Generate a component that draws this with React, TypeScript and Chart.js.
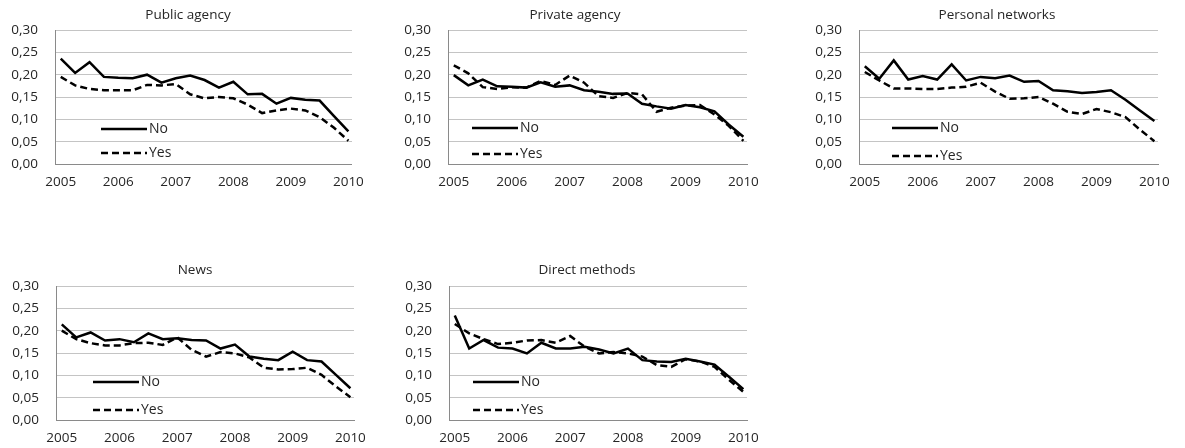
import React, { useEffect, useRef } from 'react';
import { Chart, registerables } from 'chart.js';

Chart.register(...registerables);

// Quarterly observations, 2005Q1 .. 2010Q1
const quarters = [
  '2005Q1', '2005Q2', '2005Q3', '2005Q4',
  '2006Q1', '2006Q2', '2006Q3', '2006Q4',
  '2007Q1', '2007Q2', '2007Q3', '2007Q4',
  '2008Q1', '2008Q2', '2008Q3', '2008Q4',
  '2009Q1', '2009Q2', '2009Q3', '2009Q4',
  '2010Q1',
];
const yearLabels = ['2005', '2006', '2007', '2008', '2009', '2010'];
const yearTickIndex = [0, 4, 8, 12, 16, 20];
const seriesNames = ['No', 'Yes'];
const panelTitles = ['Public agency', 'Private agency', 'Personal networks', 'News', 'Direct methods'];

const publicNo = [0.236, 0.204, 0.228, 0.195, 0.193, 0.192, 0.200, 0.182, 0.192, 0.198, 0.188, 0.171, 0.184, 0.156, 0.157, 0.135, 0.148, 0.144, 0.142, 0.107, 0.073];
const publicYes = [0.195, 0.176, 0.168, 0.165, 0.165, 0.165, 0.177, 0.176, 0.179, 0.156, 0.147, 0.150, 0.147, 0.133, 0.114, 0.120, 0.124, 0.120, 0.105, 0.081, 0.052];
const privateNo = [0.199, 0.176, 0.189, 0.174, 0.173, 0.171, 0.183, 0.173, 0.176, 0.165, 0.162, 0.157, 0.158, 0.135, 0.129, 0.124, 0.132, 0.127, 0.118, 0.088, 0.061];
const privateYes = [0.221, 0.203, 0.172, 0.168, 0.172, 0.171, 0.186, 0.177, 0.198, 0.182, 0.152, 0.148, 0.159, 0.156, 0.117, 0.126, 0.131, 0.132, 0.111, 0.085, 0.052];
const personalNo = [0.219, 0.191, 0.232, 0.189, 0.197, 0.189, 0.223, 0.187, 0.195, 0.192, 0.198, 0.184, 0.186, 0.165, 0.163, 0.159, 0.161, 0.165, 0.144, 0.120, 0.096];
const personalYes = [0.206, 0.187, 0.169, 0.169, 0.168, 0.168, 0.171, 0.173, 0.182, 0.162, 0.146, 0.147, 0.150, 0.135, 0.117, 0.112, 0.123, 0.116, 0.105, 0.077, 0.051];
const newsNo = [0.214, 0.185, 0.196, 0.178, 0.181, 0.174, 0.194, 0.181, 0.183, 0.179, 0.178, 0.160, 0.169, 0.142, 0.137, 0.134, 0.153, 0.134, 0.131, 0.101, 0.071];
const newsYes = [0.200, 0.181, 0.172, 0.167, 0.167, 0.172, 0.173, 0.168, 0.185, 0.157, 0.142, 0.152, 0.149, 0.140, 0.117, 0.113, 0.114, 0.117, 0.101, 0.075, 0.051];
const directNo = [0.234, 0.160, 0.179, 0.162, 0.160, 0.149, 0.173, 0.160, 0.160, 0.164, 0.158, 0.149, 0.160, 0.134, 0.131, 0.130, 0.137, 0.131, 0.124, 0.097, 0.069];
const directYes = [0.215, 0.194, 0.181, 0.170, 0.173, 0.178, 0.179, 0.173, 0.188, 0.164, 0.149, 0.152, 0.149, 0.142, 0.123, 0.119, 0.136, 0.131, 0.119, 0.090, 0.063];

const FONT = '"Open Sans", "DejaVu Sans", sans-serif';
const TEXT = '#262626';
const AXIS = '#8a8a8a';
const GRID = '#c4c4c4';

type Layout = {
  plotLeft: number; plotRight: number; plotTop: number; height: number;
  titleX: number; titleY: number; legX: number; legNo: number; legYes: number;
};

const YAXIS_W = 55;
const TOP_PAD = 30;
const PLOT_H = 134;
const RIGHT_PAD = 14;
const TICK_SIZE = 13.5;

const layouts: Layout[] = [
  { plotLeft: 55, plotRight: 360, plotTop: 30, height: 196, titleX: 188, titleY: 15, legX: 46, legNo: 35, legYes: 11 },
  { plotLeft: 448, plotRight: 755, plotTop: 30, height: 196, titleX: 575, titleY: 15, legX: 24, legNo: 36, legYes: 10 },
  { plotLeft: 859, plotRight: 1166, plotTop: 30, height: 196, titleX: 997, titleY: 15, legX: 33, legNo: 36, legYes: 8 },
  { plotLeft: 56, plotRight: 362, plotTop: 286, height: 192, titleX: 195, titleY: 270, legX: 37, legNo: 38, legYes: 10 },
  { plotLeft: 449, plotRight: 755, plotTop: 286, height: 192, titleX: 587, titleY: 270, legX: 24, legNo: 38, legYes: 10 },
];

const panelData = [
  [publicNo, publicYes],
  [privateNo, privateYes],
  [personalNo, personalYes],
  [newsNo, newsYes],
  [directNo, directYes],
];

const DASH = [7, 4];

function Panel({ idx }: { idx: number }) {
  const ref = useRef<HTMLCanvasElement>(null);
  const L = layouts[idx];
  const left = L.plotLeft - YAXIS_W;
  const top = L.plotTop - TOP_PAD;
  const width = L.plotRight - left + RIGHT_PAD;
  const height = L.height;
  const xAxisH = height - TOP_PAD - PLOT_H;

  useEffect(() => {
    if (!ref.current) return;
    const [noVals, yesVals] = panelData[idx];
    const decor = {
      id: 'decor' + idx,
      afterDraw(chart: any) {
        const ctx = chart.ctx;
        const area = chart.chartArea;
        ctx.save();
        ctx.fillStyle = TEXT;
        ctx.font = `13.5px ${FONT}`;
        ctx.textAlign = 'center';
        ctx.textBaseline = 'middle';
        ctx.fillText(panelTitles[idx], L.titleX - left, L.titleY - top);
        // legend
        chart.data.datasets.forEach((ds: any, i: number) => {
          const y = area.bottom - (i === 0 ? L.legNo : L.legYes);
          const x0 = area.left + L.legX;
          ctx.beginPath();
          ctx.strokeStyle = '#000';
          ctx.lineWidth = 2.5;
          ctx.setLineDash(ds.borderDash || []);
          ctx.moveTo(x0, y);
          ctx.lineTo(x0 + 46, y);
          ctx.stroke();
          ctx.setLineDash([]);
          ctx.fillStyle = TEXT;
          ctx.font = `14px ${FONT}`;
          ctx.textAlign = 'left';
          ctx.fillText(ds.label, x0 + 48, y);
        });
        ctx.restore();
      },
    };
    const chart = new Chart(ref.current, {
      type: 'line',
      data: {
        datasets: [
          {
            label: seriesNames[0],
            data: noVals.map((v, i) => ({ x: quarters.indexOf(quarters[i]), y: v })),
            borderColor: '#000', borderWidth: 2.5, pointRadius: 0, tension: 0, borderDash: [],
          },
          {
            label: seriesNames[1],
            data: yesVals.map((v, i) => ({ x: quarters.indexOf(quarters[i]), y: v })),
            borderColor: '#000', borderWidth: 2.5, pointRadius: 0, tension: 0, borderDash: DASH,
          },
        ],
      },
      options: {
        responsive: false,
        animation: false,
        devicePixelRatio: 1,
        layout: { padding: { top: TOP_PAD, right: RIGHT_PAD, left: 0, bottom: 0 } },
        plugins: { legend: { display: false }, title: { display: false }, tooltip: { enabled: false } },
        scales: {
          x: {
            type: 'linear',
            min: -0.4,
            max: 20.25,
            afterBuildTicks: (ax: any) => { ax.ticks = yearTickIndex.map((v) => ({ value: v })); },
            afterFit: (s: any) => { s.height = xAxisH; },
            grid: { display: false, drawTicks: false },
            border: { display: true, color: AXIS, width: 1 },
            ticks: {
              callback: (_v: any, i: number) => yearLabels[i],
              font: { family: FONT, size: TICK_SIZE },
              color: TEXT,
              padding: 10,
              maxRotation: 0,
              autoSkip: false,
            },
          },
          y: {
            min: 0,
            max: 0.3,
            afterFit: (s: any) => { s.width = YAXIS_W; },
            grid: { color: GRID, drawTicks: false, lineWidth: 1 },
            border: { display: true, color: AXIS, width: 1 },
            ticks: {
              stepSize: 0.05,
              callback: (v: any) => Number(v).toFixed(2).replace('.', ','),
              font: { family: FONT, size: TICK_SIZE },
              color: TEXT,
              padding: 17,
            },
          },
        },
      } as any,
      plugins: [decor],
    });
    return () => chart.destroy();
  }, []);

  return (
    <canvas
      ref={ref}
      width={width}
      height={height}
      style={{ position: 'absolute', left, top, width, height }}
    />
  );
}

export default function App() {
  return (
    <div style={{ position: 'absolute', left: 0, top: 0, width: 1185, height: 448, overflow: 'hidden', background: '#fff' }}>
      {layouts.map((_, i) => <Panel key={i} idx={i} />)}
    </div>
  );
}
